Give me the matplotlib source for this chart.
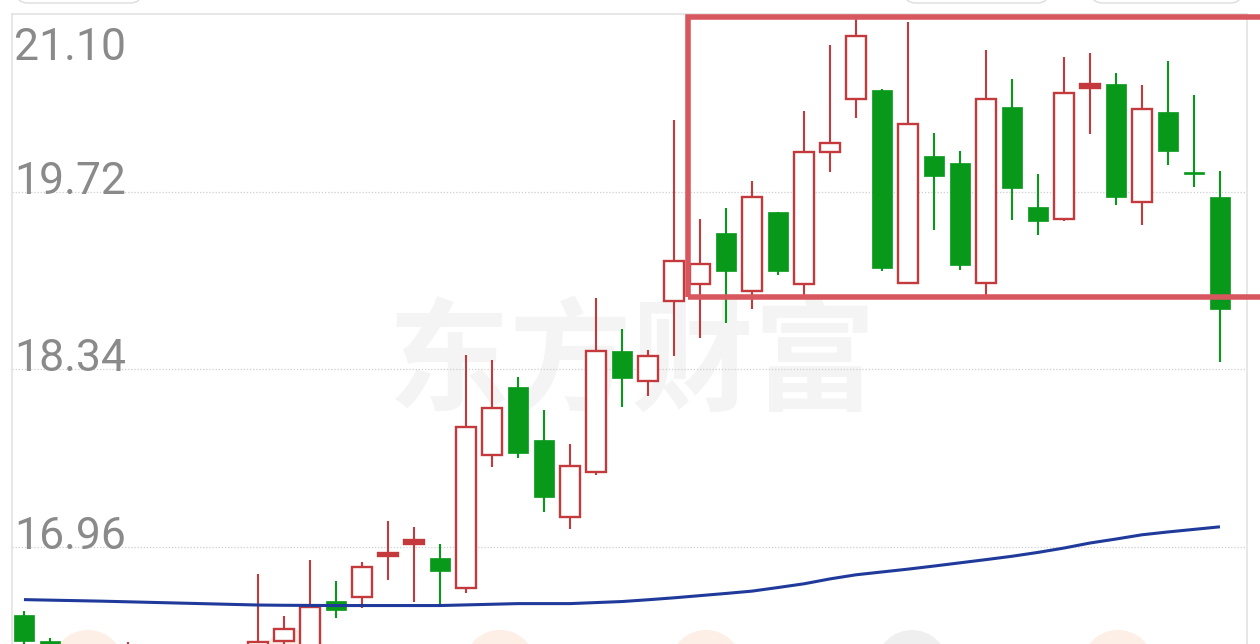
import matplotlib
matplotlib.use("Agg")
import matplotlib.pyplot as plt
from matplotlib.patches import Rectangle, Circle, FancyBboxPatch

plt.rcParams['font.family'] = ['Roboto', 'DejaVu Sans']

# trading day index (days that fall completely below the visible area are left out)
days = [0, 1, 4, 9, 10, 11, 12, 13, 14, 15, 16, 17, 18, 19, 20, 21, 22, 23,
        24, 25, 26, 27, 28, 29, 30, 31, 32, 33, 34, 35, 36, 37, 38, 39, 40,
        41, 42, 43, 44, 45, 46]
opens = [16.43, 16.23, 16.12, 16.12, 16.23, 16.18, 16.54, 16.57, 16.89, 16.985,
         16.87, 16.64, 17.67, 18.20, 17.79, 17.19, 17.54, 18.48, 18.25, 18.87,
         19.00, 19.40, 18.95, 19.56, 19.00, 20.03, 20.44, 20.51, 19.01, 20.00,
         19.94, 19.01, 20.38, 19.60, 19.51, 20.53, 20.56, 19.64, 20.34, 19.875,
         19.68]
highs = [16.46, 16.25, 16.22, 16.75, 16.42, 16.86, 16.69, 16.84, 17.16, 17.11,
         16.98, 18.45, 18.41, 18.28, 18.02, 17.76, 18.89, 18.65, 18.49, 20.28,
         19.51, 19.59, 19.80, 19.56, 20.35, 20.86, 21.10, 20.52, 21.04, 20.18,
         20.04, 20.82, 20.60, 19.86, 20.77, 20.80, 20.64, 20.55, 20.74, 20.47,
         19.88]
lows = [16.12, 16.08, 16.05, 16.08, 16.15, 16.14, 16.41, 16.48, 16.70, 16.53,
        16.51, 16.60, 17.58, 17.65, 17.23, 17.10, 17.52, 18.05, 18.13, 18.44,
        18.58, 18.70, 18.81, 19.07, 18.92, 19.87, 20.29, 19.10, 19.01, 19.42,
        19.11, 18.91, 19.50, 19.38, 19.49, 20.17, 19.62, 19.46, 19.93, 19.76,
        18.40]
closes = [16.23, 16.15, 16.18, 16.22, 16.32, 16.49, 16.47, 16.80, 16.915, 17.01,
          16.77, 17.89, 18.04, 17.69, 17.35, 17.59, 18.48, 18.27, 18.44, 19.18,
          19.16, 19.10, 19.68, 19.10, 20.03, 20.10, 20.93, 19.13, 20.25, 19.84,
          19.15, 20.44, 19.75, 19.49, 20.49, 20.56, 19.68, 20.36, 20.04, 19.855,
          18.81]

# moving average line, one value per day 0..46
ma_days = list(range(47))
ma = [16.549, 16.545, 16.541, 16.537, 16.532, 16.527, 16.522, 16.517, 16.512,
      16.507, 16.505, 16.504, 16.503, 16.503, 16.503, 16.503, 16.503, 16.508,
      16.513, 16.518, 16.518, 16.518, 16.526, 16.534, 16.548, 16.563, 16.580,
      16.597, 16.615, 16.643, 16.672, 16.710, 16.742, 16.764, 16.786, 16.810,
      16.835, 16.860, 16.886, 16.916, 16.950, 16.989, 17.020, 17.053, 17.075,
      17.095, 17.115]

price_ticks = [21.10, 19.72, 18.34, 16.96]
tick_labels = ['21.10', '19.72', '18.34', '16.96']

RED = '#c3393c'
GREEN = '#08991a'

fig = plt.figure(figsize=(12.6, 6.44), dpi=100)
ax = fig.add_axes([12 / 1260, 0, (1247 - 12) / 1260, (644 - 14.2) / 644])
ax.set_facecolor('none')
ax.set_xlim(-0.46, 47.04)
ax.set_ylim(16.204, 21.10)

# watermark
ax.text(23.4, 18.37, '东方财富', family=['Noto Sans CJK SC', 'DejaVu Sans'],
        fontsize=88, fontweight='bold', color='#f4f4f4', ha='center',
        va='center', zorder=0)

# dotted grid
for v in price_ticks[1:]:
    ax.axhline(v, color='#cfcfcf', lw=0.9, ls=(0, (1, 1.5)), zorder=1)

# candles
up = [c >= o for o, c in zip(opens, closes)]
cols = [RED if u else GREEN for u in up]
ax.vlines(days, lows, highs, colors=cols, lw=1.5, zorder=2)
bottoms = [min(o, c) for o, c in zip(opens, closes)]
heights = [abs(c - o) for o, c in zip(opens, closes)]
faces = []
for u, h in zip(up, heights):
    if not u:
        faces.append(GREEN)
    elif h < 0.04:
        faces.append(RED)   # doji: drawn as a solid bar
    else:
        faces.append('white')
ax.bar(days, heights, bottom=bottoms, width=0.77, color=faces,
       edgecolor=cols, linewidth=[1.7 if u else 0.5 for u in up], zorder=3)

# moving average
ax.plot(ma_days, ma, color='#1f3a9a', lw=2.2, zorder=4, solid_capstyle='butt')

# highlight box
ax.add_patch(Rectangle((25.54, 18.90), 49 - 25.54, 21.078 - 18.90,
                       fill=False, edgecolor='#d8575f', lw=4, zorder=6,
                       clip_on=False))

# price labels
for v, t in zip(price_ticks, tick_labels):
    dy = -46 if v == price_ticks[0] else -2
    ax.annotate(t, xy=(0, v), xycoords=ax.get_yaxis_transform(),
                xytext=(2, dy), textcoords='offset pixels', fontsize=32,
                color='#8a8a8a', ha='left', va='baseline', zorder=7)

for s in ['top', 'left', 'right']:
    ax.spines[s].set_color('#e3e3e3')
    ax.spines[s].set_linewidth(1.2)
ax.spines['bottom'].set_visible(False)
ax.set_xticks([])
ax.set_yticks([])

# faint round buttons peeking in at the bottom and top of the screen
for cx, fc in [(88, '#fdeee6'), (294, '#fdeee6'), (500, '#fdeee6'),
               (706, '#fdeee6'), (912, '#efefef'), (1118, '#fdeee6')]:
    fig.add_artist(Circle((cx / 100, -0.22), 0.36, transform=fig.dpi_scale_trans,
                          facecolor=fc, edgecolor='none', zorder=-1))
for x0, x1 in [(16, 142), (904, 1049), (1091, 1242)]:
    fig.add_artist(FancyBboxPatch((x0 / 100, 6.41), (x1 - x0) / 100, 0.5,
                                  boxstyle='round,pad=0,rounding_size=0.12',
                                  transform=fig.dpi_scale_trans,
                                  facecolor='white', edgecolor='#dddddd',
                                  lw=1, zorder=-1))

fig.savefig('out.png', dpi=100, facecolor='white')
